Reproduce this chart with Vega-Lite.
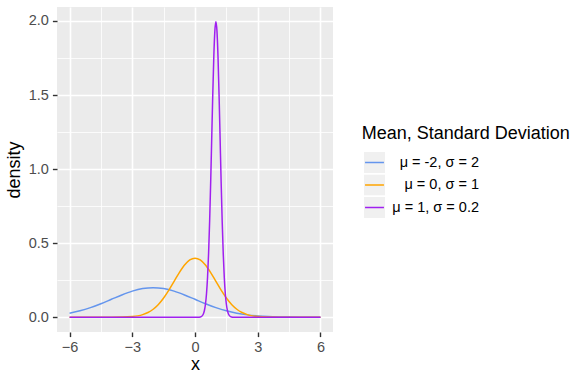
{
  "$schema": "https://vega.github.io/schema/vega-lite/v6.json",
  "width": 276,
  "height": 325,
  "autosize": "none",
  "padding": {"left": 57, "top": 7, "right": 240, "bottom": 40},
  "background": "white",
  "config": {
    "font": "Liberation Sans",
    "view": {"fill": "#EBEBEB", "stroke": null},
    "axis": {
      "domain": false,
      "gridColor": "white",
      "tickColor": "#333333",
      "tickSize": 4.6,
      "tickWidth": 1.4,
      "labelColor": "#4D4D4D",
      "labelFontSize": 14.5,
      "labelPadding": 4,
      "titleFontSize": 18,
      "titleFontWeight": "normal",
      "titleColor": "black"
    }
  },
  "layer": [
    {
      "data": {"values": [{"k": "kb"}, {"k": "ko"}, {"k": "kp"}]},
      "mark": {"type": "square", "opacity": 0},
      "encoding": {
        "fill": {
          "field": "k", "type": "nominal",
          "scale": {"domain": ["kb", "ko", "kp"], "range": ["#F0F0F0", "#F0F0F0", "#F0F0F0"]},
          "legend": {
            "title": "Mean, Standard Deviation",
            "titleLimit": 400,
            "titleFontSize": 18,
            "titleFontWeight": "normal",
            "titleColor": "black",
            "titlePadding": 9,
            "orient": "none",
            "legendX": 304.7,
            "legendY": 118,
            "zindex": 0,
            "labelExpr": "''",
            "labelFontSize": 14.5,
            "symbolType": "M-1,-1M1,1M-0.93,-0.93H0.93V0.93H-0.93Z",
            "symbolSize": 441,
            "symbolOffset": 1.3,
            "symbolStrokeWidth": 1.5,
            "symbolStrokeColor": "#F0F0F0",
            "symbolOpacity": 1,
            "clipHeight": 21,
            "rowPadding": 1.5
          }
        }
      }
    },
    {
      "data": {
        "values": [
          {"x": -6, "y": 0.026995, "g": "B"},
          {"x": -5.5, "y": 0.043139, "g": "B"},
          {"x": -5, "y": 0.064759, "g": "B"},
          {"x": -4.5, "y": 0.091324, "g": "B"},
          {"x": -4, "y": 0.120985, "g": "B"},
          {"x": -3.5, "y": 0.150569, "g": "B"},
          {"x": -3, "y": 0.176033, "g": "B"},
          {"x": -2.5, "y": 0.193334, "g": "B"},
          {"x": -2, "y": 0.199471, "g": "B"},
          {"x": -1.5, "y": 0.193334, "g": "B"},
          {"x": -1, "y": 0.176033, "g": "B"},
          {"x": -0.5, "y": 0.150569, "g": "B"},
          {"x": 0, "y": 0.120985, "g": "B"},
          {"x": 0.5, "y": 0.091324, "g": "B"},
          {"x": 1, "y": 0.064759, "g": "B"},
          {"x": 1.5, "y": 0.043139, "g": "B"},
          {"x": 2, "y": 0.026995, "g": "B"},
          {"x": 2.5, "y": 0.01587, "g": "B"},
          {"x": 3, "y": 0.008764, "g": "B"},
          {"x": 3.5, "y": 0.004547, "g": "B"},
          {"x": 4, "y": 0.002216, "g": "B"},
          {"x": 4.5, "y": 0.001015, "g": "B"},
          {"x": 5, "y": 0.000436, "g": "B"},
          {"x": 5.5, "y": 0.000176, "g": "B"},
          {"x": 6, "y": 0.000067, "g": "B"},

          {"x": -6, "y": 0, "g": "O"},
          {"x": -5, "y": 0.0000015, "g": "O"},
          {"x": -4, "y": 0.000134, "g": "O"},
          {"x": -3.5, "y": 0.000873, "g": "O"},
          {"x": -3, "y": 0.004432, "g": "O"},
          {"x": -2.75, "y": 0.009094, "g": "O"},
          {"x": -2.5, "y": 0.017528, "g": "O"},
          {"x": -2.25, "y": 0.03174, "g": "O"},
          {"x": -2, "y": 0.053991, "g": "O"},
          {"x": -1.75, "y": 0.086277, "g": "O"},
          {"x": -1.5, "y": 0.129518, "g": "O"},
          {"x": -1.25, "y": 0.182649, "g": "O"},
          {"x": -1, "y": 0.241971, "g": "O"},
          {"x": -0.75, "y": 0.301137, "g": "O"},
          {"x": -0.5, "y": 0.352065, "g": "O"},
          {"x": -0.25, "y": 0.386668, "g": "O"},
          {"x": 0, "y": 0.398942, "g": "O"},
          {"x": 0.25, "y": 0.386668, "g": "O"},
          {"x": 0.5, "y": 0.352065, "g": "O"},
          {"x": 0.75, "y": 0.301137, "g": "O"},
          {"x": 1, "y": 0.241971, "g": "O"},
          {"x": 1.25, "y": 0.182649, "g": "O"},
          {"x": 1.5, "y": 0.129518, "g": "O"},
          {"x": 1.75, "y": 0.086277, "g": "O"},
          {"x": 2, "y": 0.053991, "g": "O"},
          {"x": 2.25, "y": 0.03174, "g": "O"},
          {"x": 2.5, "y": 0.017528, "g": "O"},
          {"x": 2.75, "y": 0.009094, "g": "O"},
          {"x": 3, "y": 0.004432, "g": "O"},
          {"x": 3.5, "y": 0.000873, "g": "O"},
          {"x": 4, "y": 0.000134, "g": "O"},
          {"x": 5, "y": 0.0000015, "g": "O"},
          {"x": 6, "y": 0, "g": "O"},

          {"x": -6, "y": 0, "g": "P"},
          {"x": 0, "y": 0.0000074, "g": "P"},
          {"x": 0.2, "y": 0.000669, "g": "P"},
          {"x": 0.3, "y": 0.004363, "g": "P"},
          {"x": 0.4, "y": 0.022159, "g": "P"},
          {"x": 0.45, "y": 0.045467, "g": "P"},
          {"x": 0.5, "y": 0.087642, "g": "P"},
          {"x": 0.55, "y": 0.158698, "g": "P"},
          {"x": 0.6, "y": 0.269955, "g": "P"},
          {"x": 0.65, "y": 0.431387, "g": "P"},
          {"x": 0.7, "y": 0.647588, "g": "P"},
          {"x": 0.75, "y": 0.913245, "g": "P"},
          {"x": 0.8, "y": 1.209854, "g": "P"},
          {"x": 0.85, "y": 1.505687, "g": "P"},
          {"x": 0.9, "y": 1.760326, "g": "P"},
          {"x": 0.95, "y": 1.933341, "g": "P"},
          {"x": 1.0, "y": 1.994711, "g": "P"},
          {"x": 1.05, "y": 1.933341, "g": "P"},
          {"x": 1.1, "y": 1.760326, "g": "P"},
          {"x": 1.15, "y": 1.505687, "g": "P"},
          {"x": 1.2, "y": 1.209854, "g": "P"},
          {"x": 1.25, "y": 0.913245, "g": "P"},
          {"x": 1.3, "y": 0.647588, "g": "P"},
          {"x": 1.35, "y": 0.431387, "g": "P"},
          {"x": 1.4, "y": 0.269955, "g": "P"},
          {"x": 1.45, "y": 0.158698, "g": "P"},
          {"x": 1.5, "y": 0.087642, "g": "P"},
          {"x": 1.55, "y": 0.045467, "g": "P"},
          {"x": 1.6, "y": 0.022159, "g": "P"},
          {"x": 1.7, "y": 0.004363, "g": "P"},
          {"x": 1.8, "y": 0.000669, "g": "P"},
          {"x": 2.0, "y": 0.0000074, "g": "P"},
          {"x": 6, "y": 0, "g": "P"}
        ]
      },
      "mark": {"type": "line", "strokeWidth": 1.5, "interpolate": "monotone", "clip": true},
      "encoding": {
        "x": {
          "field": "x", "type": "quantitative",
          "scale": {"domain": [-6.6, 6.6], "nice": false, "zero": false},
          "axis": {
            "title": "x",
            "values": [-6, -4.5, -3, -1.5, 0, 1.5, 3, 4.5, 6],
            "labelExpr": "datum.value % 3 === 0 ? datum.label : ''",
            "gridWidth": {"condition": {"test": "datum.value % 3 !== 0", "value": 0.8}, "value": 1.6},
            "tickOpacity": {"condition": {"test": "datum.value % 3 !== 0", "value": 0}, "value": 1},
            "titlePadding": 1.5
          }
        },
        "y": {
          "field": "y", "type": "quantitative",
          "scale": {"domain": [-0.0997, 2.0944], "nice": false, "zero": false},
          "axis": {
            "title": "density",
            "values": [0, 0.25, 0.5, 0.75, 1, 1.25, 1.5, 1.75, 2],
            "format": ".1f",
            "labelExpr": "(datum.value * 4) % 2 === 1 ? '' : datum.label",
            "gridWidth": {"condition": {"test": "(datum.value * 4) % 2 === 1", "value": 0.8}, "value": 1.6},
            "tickOpacity": {"condition": {"test": "(datum.value * 4) % 2 === 1", "value": 0}, "value": 1},
            "titlePadding": 5
          }
        },
        "color": {
          "field": "g", "type": "nominal",
          "scale": {"domain": ["B", "O", "P"], "range": ["#6495ED", "#FFA500", "#A020F0"]},
          "legend": {
            "title": "Mean, Standard Deviation",
            "titleLimit": 400,
            "titleOpacity": 0,
            "titleFontSize": 18,
            "titleFontWeight": "normal",
            "titlePadding": 9,
            "orient": "none",
            "legendX": 304.7,
            "legendY": 118,
            "zindex": 1,
            "labelFontSize": 14.5,
            "labelColor": "black",
            "labelAlign": "right",
            "labelOffset": 93,
            "symbolType": "M-0.9,0H0.9M0,-1M0,1M-1,0M1,0",
            "symbolSize": 441,
            "symbolOffset": 1.3,
            "symbolStrokeWidth": 1.5,
            "clipHeight": 21,
            "rowPadding": 1.5,
            "labelExpr": "datum.value === 'B' ? '\u03bc = -2, \u03c3 = 2' : datum.value === 'O' ? '\u03bc = 0, \u03c3 = 1' : '\u03bc = 1, \u03c3 = 0.2'"
          }
        }
      }
    }
  ]
}
